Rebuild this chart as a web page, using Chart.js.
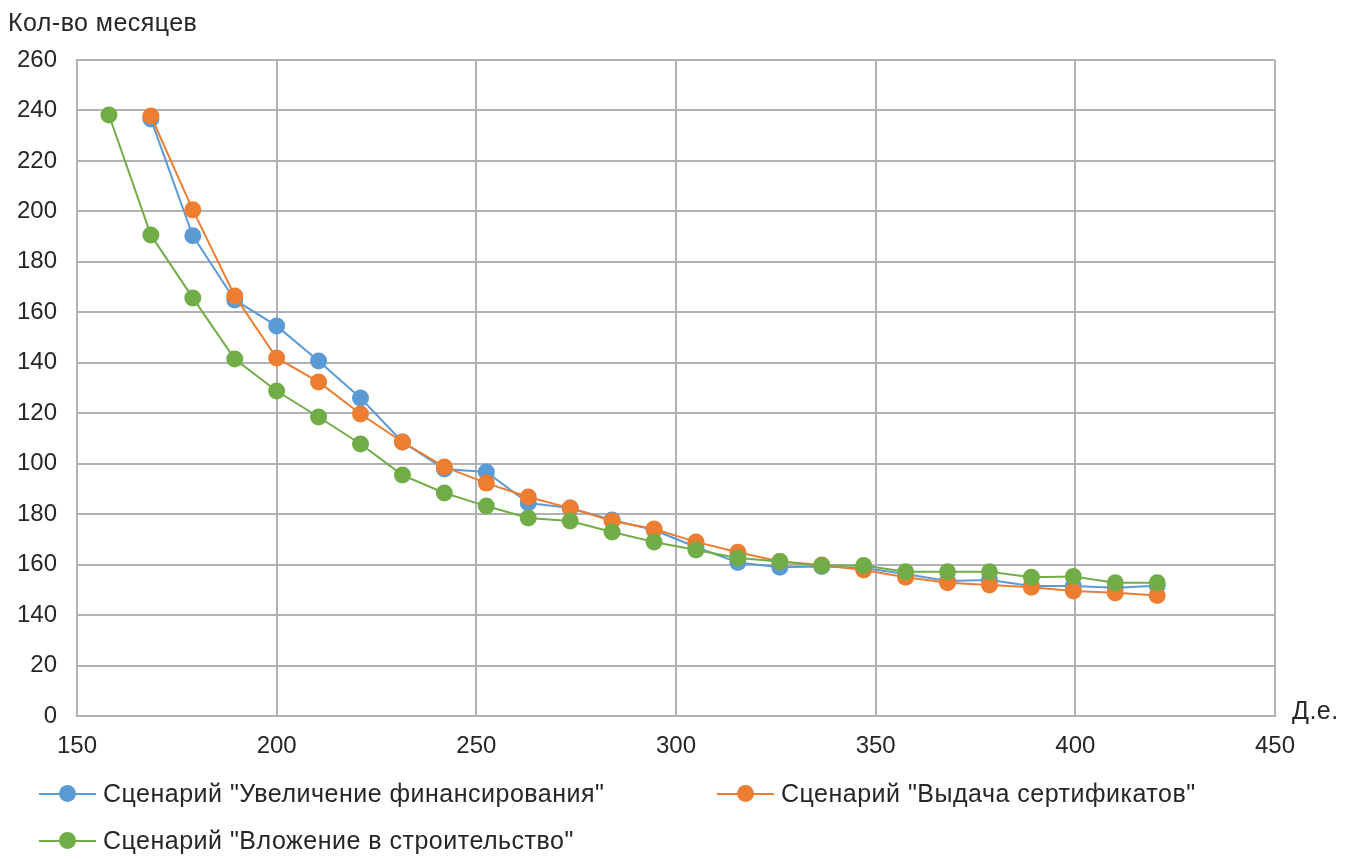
<!DOCTYPE html>
<html>
<head>
<meta charset="utf-8">
<script src="https://cdn.jsdelivr.net/npm/chart.js@4"></script>
<style>
  html, body { margin: 0; padding: 0; background: #fff; }
  #wrap { position: relative; width: 1355px; height: 859px; font-family: "Liberation Sans", Arial, sans-serif; color: #262626; }
  canvas { position: absolute; left: 0; top: 0; }
  .txt { position: absolute; font-size: 25px; letter-spacing: 0.45px; white-space: nowrap; line-height: 1; }
  .leg { position: absolute; display: flex; align-items: center; font-size: 25px; letter-spacing: 0.5px; white-space: nowrap; }
  .mk { position: relative; width: 57px; height: 18px; margin-right: 7px; }
  .mk .ln { position: absolute; left: 0; right: 0; top: 8px; height: 2px; }
  .mk .dt { position: absolute; left: 20px; top: 0px; width: 17px; height: 17px; border-radius: 50%; }
</style>
</head>
<body>
<div id="wrap">
  <canvas id="c" width="1355" height="859"></canvas>
  <div class="txt" id="ytitle" style="left:8px; top:10px;">Кол-во месяцев</div>
  <div class="txt" id="xtitle" style="left:1292px; top:698px;">Д.е.</div>
  <div id="legend"></div>
</div>
<script>
// ---- data ----
const xValues = [158, 168.5, 179, 189.5, 200, 210.5, 221, 231.5, 242, 252.5, 263, 273.5, 284, 294.5, 305, 315.5, 326, 336.5, 347, 357.5, 368, 378.5, 389, 399.5, 410, 420.5];

const seriesNames = [
  'Сценарий "Увеличение финансирования"',
  'Сценарий "Выдача сертификатов"',
  'Сценарий "Вложение в строительство"'
];

// first x (158) only in green series
const blueValues = [null, 236.6, 190.3, 164.9, 154.6, 140.7, 126, 108.6, 97.9, 96.7, 84.4, 82.4, 77.7, 73.7, 67, 60.8, 59, 59.3, 58.7, 56.3, 53.5, 53.9, 51.5, 51.5, 50.8, 51.6];
const orangeValues = [null, 237.8, 200.6, 166.5, 141.9, 132.4, 119.7, 108.6, 98.7, 92.3, 86.8, 82.4, 77.3, 74.1, 69, 64.9, 61.2, 59.8, 57.9, 55, 52.8, 51.9, 51, 49.5, 48.8, 47.8];
const greenValues = [238.2, 190.6, 165.7, 141.5, 128.8, 118.5, 107.8, 95.5, 88.4, 83.2, 78.5, 77.3, 72.9, 69, 65.8, 62.6, 61.2, 59.6, 59.6, 57.2, 57.2, 57.2, 55, 55.3, 52.8, 52.8];

const yTickLabels = ['0', '20', '140', '160', '180', '100', '120', '140', '160', '180', '200', '220', '240', '260'];
const xTickLabels = ['150', '200', '250', '300', '350', '400', '450'];

const colors = ['#5B9BD5', '#ED7D31', '#70AD47'];
const gridColor = '#B1B1B5';

function pts(vals) {
  const out = [];
  vals.forEach((v, i) => { if (v !== null) out.push({ x: xValues[i], y: v }); });
  return out;
}

const allSeries = [blueValues, orangeValues, greenValues];
const orders = [2, 1, 0];

const datasets = allSeries.map((vals, i) => ({
  label: seriesNames[i],
  data: pts(vals),
  borderColor: colors[i],
  backgroundColor: colors[i],
  pointBackgroundColor: colors[i],
  pointBorderColor: colors[i],
  borderWidth: 2,
  pointRadius: 8.5,
  pointHoverRadius: 8.5,
  pointBorderWidth: 0,
  tension: 0,
  order: orders[i]
}));

const font = { family: '"Liberation Sans", Arial, sans-serif', size: 24 };

new Chart(document.getElementById('c'), {
  type: 'line',
  data: { datasets },
  options: {
    responsive: false,
    animation: false,
    devicePixelRatio: 1,
    layout: { padding: { left: 0, top: 60, right: 80, bottom: 0 } },
    plugins: { legend: { display: false }, tooltip: { enabled: false } },
    scales: {
      x: {
        type: 'linear',
        min: 150, max: 450,
        afterFit: s => { s.height = 143; },
        ticks: {
          stepSize: 50, color: '#262626', font, padding: 16,
          callback: (v, i) => xTickLabels[i]
        },
        grid: { color: gridColor, lineWidth: 2, drawTicks: false },
        border: { color: gridColor, width: 2 }
      },
      y: {
        type: 'linear',
        min: 0, max: 260,
        afterFit: s => { s.width = 77; },
        ticks: {
          stepSize: 20, color: '#262626', font, padding: 20,
          callback: (v, i) => yTickLabels[i]
        },
        grid: { color: gridColor, lineWidth: 2, drawTicks: false },
        border: { color: gridColor, width: 2 }
      }
    }
  }
});

// HTML legend
const legPos = [[39, 793], [717, 793], [39, 840]];
const legend = document.getElementById('legend');
seriesNames.forEach((name, i) => {
  const d = document.createElement('div');
  d.className = 'leg';
  d.style.left = legPos[i][0] + 'px';
  d.style.top = (legPos[i][1] - 14) + 'px';
  d.innerHTML = '<div class="mk"><div class="ln" style="background:' + colors[i] + '"></div><div class="dt" style="background:' + colors[i] + '"></div></div><span></span>';
  d.querySelector('span').textContent = name;
  legend.appendChild(d);
});
</script>
</body>
</html>
